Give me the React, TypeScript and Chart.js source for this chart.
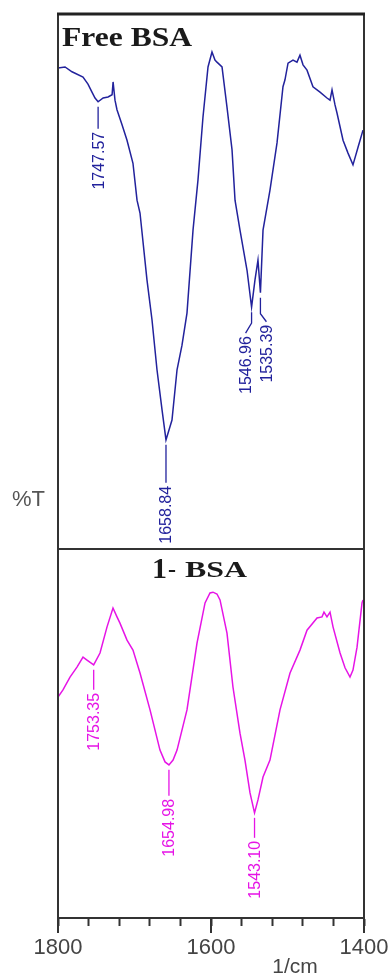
import React, { useEffect, useRef } from 'react';
import { Chart, registerables } from 'chart.js';

Chart.register(...registerables);

// ---- Data ----
const freeBsaWavenumbers = [
  1800, 1790.8, 1781.7, 1767.3, 1760.8, 1755.6, 1751.6, 1747.57, 1741, 1734.6,
  1729.3, 1728, 1725.5, 1722.9, 1716.3, 1709.8, 1702, 1696.7, 1692.8, 1683.7,
  1677.1, 1670.6, 1664, 1658.84, 1651, 1644.4, 1637.9, 1631.4, 1623.5, 1617,
  1610.5, 1603.9, 1598.7, 1594.8, 1592.2, 1585.6, 1579.1, 1572.5, 1568.6, 1562.1,
  1552.9, 1546.96, 1542.5, 1538.6, 1535.39, 1532, 1522.9, 1513.7, 1505.9, 1503.3,
  1499.3, 1492.8, 1487.6, 1483.7, 1479.7, 1474.5, 1466.7, 1457.5, 1448.4, 1444.4,
  1441.8, 1437.9, 1435.3, 1427.4, 1420.9, 1414.4, 1407.8, 1401.3,
];
const freeBsaT = [
  89.9, 90.1, 89.2, 88.2, 86.9, 85.4, 84.3, 83.6, 84.3, 84.5,
  84.9, 87.3, 83.9, 82.1, 79.3, 76.4, 72.1, 65.2, 62.8, 50.3,
  42.8, 33.5, 26.0, 20.4, 24.1, 33.5, 38.1, 44.1, 59.6, 69.0,
  80.7, 90.1, 92.9, 91.4, 91.0, 90.1, 82.6, 74.6, 65.2, 59.6,
  52.1, 45.2, 50.3, 54.0, 47.9, 59.6, 67.1, 75.9, 86.4, 87.7,
  90.8, 91.4, 91.0, 92.3, 90.5, 89.5, 86.4, 85.4, 84.3, 83.9,
  85.8, 83.0, 81.5, 76.4, 74.0, 71.8, 75.1, 78.3,
];

const bsa1Wavenumbers = [
  1800, 1793.5, 1784.3, 1775.2, 1767.3, 1762.1, 1753.35, 1745.1, 1735.9, 1728.1,
  1722.9, 1719, 1709.8, 1702, 1692.8, 1679.7, 1666.7, 1660.1, 1654.98, 1649.6,
  1644.4, 1631.4, 1618.3, 1607.8, 1601.3, 1597.4, 1592.2, 1588.2, 1579.1, 1571.3,
  1562.1, 1555.6, 1549, 1543.1, 1538.6, 1532, 1522.9, 1520.3, 1509.8, 1496.7,
  1483.7, 1474.5, 1461.4, 1454.9, 1452.3, 1448.4, 1444.4, 1440.5, 1431.3, 1424.8,
  1418.3, 1414.4, 1409.1, 1402.6, 1401.3,
];
const bsa1T = [
  59.9, 61.8, 65.3, 68.0, 70.7, 69.9, 68.6, 71.8, 78.9, 84.0,
  81.6, 79.9, 75.3, 72.6, 66.4, 56.4, 45.5, 42.3, 41.5, 42.8,
  45.5, 56.4, 74.5, 85.4, 88.1, 88.3, 87.8, 86.2, 77.2, 62.6,
  50.1, 42.8, 33.9, 28.5, 32.0, 38.2, 42.8, 45.5, 56.4, 66.4,
  72.6, 78.0, 81.3, 81.6, 82.9, 81.6, 82.9, 78.9, 71.8, 67.8,
  65.3, 67.2, 73.4, 85.4, 86.2,
];

const freeBsaPeaks = [1747.57, 1658.84, 1546.96, 1535.39];
const bsa1Peaks = [1753.35, 1654.98, 1543.1];

const xMin = 1400;
const xMax = 1800;
const xStep = 40;
const xMajorTicks = [1800, 1600, 1400];

const topTitle = 'Free BSA';
const bottomTitleNum = '1';
const bottomTitleRest = 'BSA';
const yAxisLabel = '%T';
const xAxisLabel = '1/cm';

// ---- Styles ----
const BLUE = '#22229c';
const MAGENTA = '#e614e6';
const FRAME = '#333333';
const AXIS_TEXT = '#454545';

// leader line styles for peak labels
const freeBsaLeaders = [
  { lead: 22, kink: 0, kinkLen: 0 },
  { lead: 38, kink: 0, kinkLen: 0 },
  { lead: 11, kink: -6, kinkLen: 10 },
  { lead: 16, kink: 6, kinkLen: 8 },
];
const bsa1Leaders = [
  { lead: 20, kink: 0, kinkLen: 0 },
  { lead: 26, kink: 0, kinkLen: 0 },
  { lead: 20, kink: 0, kinkLen: 0 },
];

function toPoints(xs: number[], ys: number[]) {
  return xs.map((x, i) => ({ x, y: ys[i] }));
}

function valueAt(xs: number[], ys: number[], x: number) {
  for (let i = 0; i < xs.length - 1; i++) {
    const a = xs[i];
    const b = xs[i + 1];
    if ((x <= a && x >= b) || (x >= a && x <= b)) {
      const t = a === b ? 0 : (x - a) / (b - a);
      return ys[i] + t * (ys[i + 1] - ys[i]);
    }
  }
  return ys[0];
}

const decorPlugin = {
  id: 'decor',
  afterDatasetsDraw(chart: any) {
    const ctx = chart.ctx as CanvasRenderingContext2D;
    const area = chart.chartArea;
    const xs = chart.scales.x;
    const yTop = chart.scales.yTop;
    const yBot = chart.scales.yBot;

    const drawPeaks = (
      peaks: number[],
      leaders: any[],
      wav: number[],
      vals: number[],
      yScale: any,
      color: string
    ) => {
      ctx.save();
      ctx.strokeStyle = color;
      ctx.fillStyle = color;
      ctx.lineWidth = 1.3;
      ctx.font = '16px "Liberation Sans", Arial, sans-serif';
      peaks.forEach((p, i) => {
        const L = leaders[i];
        const px = xs.getPixelForValue(p);
        const py = yScale.getPixelForValue(valueAt(wav, vals, p));
        const y0 = py + 5;
        const y1 = y0 + L.lead;
        ctx.beginPath();
        ctx.moveTo(px, y0);
        ctx.lineTo(px, y1);
        let tx = px;
        let ty = y1;
        if (L.kink !== 0) {
          tx = px + L.kink;
          ty = y1 + L.kinkLen;
          ctx.lineTo(tx, ty);
        }
        ctx.stroke();
        const label = p.toFixed(2);
        const w = ctx.measureText(label).width;
        ctx.save();
        ctx.translate(tx + 1, ty + 3 + w);
        ctx.rotate(-Math.PI / 2);
        ctx.textAlign = 'left';
        ctx.textBaseline = 'middle';
        ctx.fillText(label, 0, 0);
        ctx.restore();
      });
      ctx.restore();
    };

    drawPeaks(freeBsaPeaks, freeBsaLeaders, freeBsaWavenumbers, freeBsaT, yTop, BLUE);
    drawPeaks(bsa1Peaks, bsa1Leaders, bsa1Wavenumbers, bsa1T, yBot, MAGENTA);

    // frame
    ctx.save();
    ctx.strokeStyle = FRAME;
    ctx.lineWidth = 2;
    ctx.beginPath();
    ctx.moveTo(area.left, area.top);
    ctx.lineTo(area.left, area.bottom + 15);
    ctx.moveTo(area.right, area.top);
    ctx.lineTo(area.right, area.bottom + 15);
    ctx.stroke();
    ctx.lineWidth = 3;
    ctx.strokeStyle = '#222';
    ctx.beginPath();
    ctx.moveTo(area.left - 1, area.top);
    ctx.lineTo(area.right + 1, area.top);
    ctx.stroke();
    ctx.lineWidth = 2;
    ctx.strokeStyle = FRAME;
    const divY = yTop.bottom;
    ctx.beginPath();
    ctx.moveTo(area.left, divY);
    ctx.lineTo(area.right, divY);
    ctx.stroke();
    // longer major ticks
    xMajorTicks.forEach((v) => {
      const px = xs.getPixelForValue(v);
      ctx.beginPath();
      ctx.moveTo(px, area.bottom);
      ctx.lineTo(px, area.bottom + 15);
      ctx.stroke();
    });
    ctx.restore();

    // panel titles
    ctx.save();
    ctx.fillStyle = '#1a1a1a';
    ctx.textBaseline = 'alphabetic';
    ctx.textAlign = 'left';
    ctx.save();
    ctx.translate(area.left + 4, area.top + 32);
    ctx.scale(1.17, 1);
    ctx.font = 'bold 27px "Liberation Serif", "Times New Roman", serif';
    ctx.fillText(topTitle, 0, 0);
    ctx.restore();

    const by = divY + 29;
    ctx.save();
    ctx.translate(area.left + 94, by);
    ctx.font = 'bold 30px "Liberation Serif", "Times New Roman", serif';
    ctx.fillText(bottomTitleNum, 0, 0);
    ctx.restore();
    ctx.save();
    ctx.translate(area.left + 110, by - 1);
    ctx.font = 'bold 24px "Liberation Serif", "Times New Roman", serif';
    ctx.fillText('-', 0, 0);
    ctx.translate(17, 0);
    ctx.scale(1.33, 1);
    ctx.fillText(bottomTitleRest, 0, 0);
    ctx.restore();
    ctx.restore();

    // axis labels
    ctx.save();
    ctx.fillStyle = '#555';
    ctx.font = '22px "Liberation Sans", Arial, sans-serif';
    ctx.textAlign = 'left';
    ctx.textBaseline = 'middle';
    ctx.fillText(yAxisLabel, 12, (area.top + area.bottom) / 2 + 34);
    ctx.fillStyle = AXIS_TEXT;
    ctx.font = '21px "Liberation Sans", Arial, sans-serif';
    ctx.textAlign = 'center';
    ctx.textBaseline = 'alphabetic';
    ctx.fillText(xAxisLabel, area.left + 237, area.bottom + 55);
    ctx.restore();
  },
};

export default function App() {
  const canvasRef = useRef<HTMLCanvasElement | null>(null);

  useEffect(() => {
    const canvas = canvasRef.current;
    if (!canvas) return;
    const chart = new Chart(canvas, {
      type: 'line',
      data: {
        datasets: [
          {
            label: topTitle,
            data: toPoints(freeBsaWavenumbers, freeBsaT),
            yAxisID: 'yTop',
            borderColor: BLUE,
            borderWidth: 1.5,
            pointRadius: 0,
            tension: 0,
          },
          {
            label: '1 - BSA',
            data: toPoints(bsa1Wavenumbers, bsa1T),
            yAxisID: 'yBot',
            borderColor: MAGENTA,
            borderWidth: 1.5,
            pointRadius: 0,
            tension: 0,
          },
        ],
      },
      options: {
        animation: false,
        responsive: false,
        events: [],
        layout: { padding: { left: 58, right: 26, top: 14, bottom: 0 } },
        plugins: {
          legend: { display: false },
          tooltip: { enabled: false },
          title: { display: false },
        },
        scales: {
          x: {
            type: 'linear',
            min: xMin,
            max: xMax,
            reverse: true,
            afterFit: (s: any) => {
              s.height = 58;
              s.paddingLeft = 0;
              s.paddingRight = 0;
            },
            border: { display: true, color: FRAME, width: 2 },
            grid: {
              drawOnChartArea: false,
              drawTicks: true,
              tickLength: 8,
              tickColor: FRAME,
              tickWidth: 2,
            },
            ticks: {
              stepSize: xStep,
              autoSkip: false,
              maxRotation: 0,
              padding: 9,
              color: AXIS_TEXT,
              font: { family: '"Liberation Sans", Arial, sans-serif', size: 22 },
              callback: (v: any) => (xMajorTicks.includes(Number(v)) ? String(v) : ''),
            },
          },
          yBot: {
            type: 'linear',
            position: 'left',
            stack: 'panels',
            stackWeight: 369,
            min: 0,
            max: 100,
            display: false,
          },
          yTop: {
            type: 'linear',
            position: 'left',
            stack: 'panels',
            stackWeight: 535,
            min: 0,
            max: 100,
            display: false,
          },
        },
      } as any,
      plugins: [decorPlugin],
    });
    return () => chart.destroy();
  }, []);

  return (
    <div style={{ position: 'fixed', left: 0, top: 0, width: 390, height: 976, background: '#fff' }}>
      <canvas ref={canvasRef} width={390} height={976} style={{ display: 'block' }} />
    </div>
  );
}
